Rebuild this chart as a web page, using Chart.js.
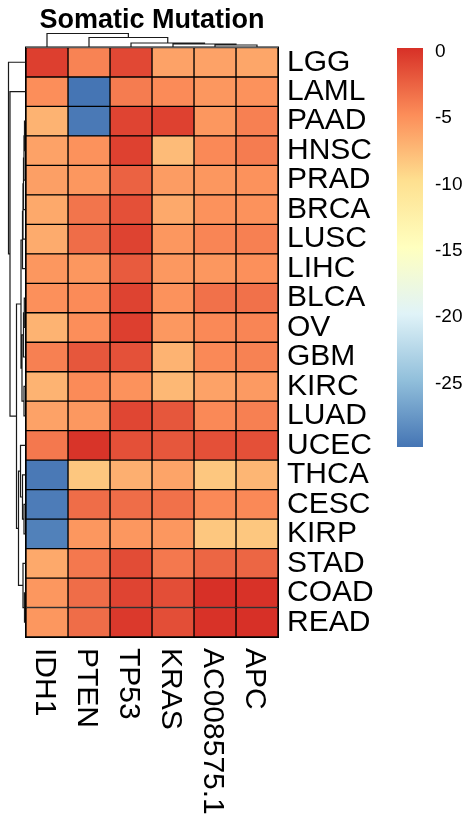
<!DOCTYPE html>
<html><head><meta charset="utf-8">
<script src="https://cdn.jsdelivr.net/npm/chart.js@4.4.1/dist/chart.umd.min.js"></script>
<style>html,body{margin:0;padding:0;background:#fff;}canvas{display:block;}</style>
</head><body>
<canvas id="c" width="465" height="825"></canvas>
<script>
// ---------------- data ----------------
const rowLabels = ['LGG','LAML','PAAD','HNSC','PRAD','BRCA','LUSC','LIHC','BLCA','OV','GBM','KIRC','LUAD','UCEC','THCA','CESC','KIRP','STAD','COAD','READ'];
const colLabels = ['IDH1','PTEN','TP53','KRAS','AC008575.1','APC'];
const valIDH1 = [-0.5,-4.8,-7.0,-6.0,-5.8,-6.4,-6.5,-5.3,-4.9,-7.0,-4.0,-7.0,-6.0,-3.6,-29.5,-29.3,-29.0,-6.4,-5.3,-5.3];
const valPTEN = [-4.2,-29.8,-29.5,-5.0,-5.3,-3.4,-3.0,-5.3,-4.6,-4.8,-1.8,-4.6,-5.4,0.1,-8.2,-3.0,-5.3,-3.6,-3.0,-3.0];
const valTP53 = [-1.0,-3.8,-0.8,-0.6,-2.4,-1.4,-0.7,-2.0,-0.7,-0.5,-1.5,-5.0,-0.9,-1.4,-6.8,-3.0,-5.3,-1.2,-0.8,-0.2];
const valKRAS = [-6.0,-4.6,-0.6,-7.5,-5.6,-6.4,-5.3,-5.4,-5.0,-5.4,-7.0,-7.3,-1.8,-1.8,-6.1,-3.2,-5.3,-3.6,-1.3,-1.3];
const valAC = [-6.0,-5.3,-5.3,-4.5,-5.3,-5.0,-4.3,-5.3,-3.2,-4.5,-4.5,-6.0,-4.5,-1.4,-8.2,-4.5,-8.2,-2.6,0.3,0.2];
const valAPC = [-6.2,-5.0,-4.0,-3.8,-5.0,-5.0,-4.0,-4.9,-3.2,-4.3,-4.1,-5.5,-4.0,-1.4,-7.2,-4.5,-8.2,-2.6,0.2,0.3];
const legendTicks = [0,-5,-10,-15,-20,-25];
// hclust-style merges (negative = leaf index, positive = earlier merge)
const rowMerges = [[-3,-4],[1,-5],[2,-6],[3,-7],[4,-8],[-9,-10],[6,-11],[-12,-13],[7,8],[5,9],[-16,-17],[-15,11],[-14,12],[-19,-20],[-18,14],[13,15],[10,16],[-2,17],[-1,18]];
const rowMergeHeights = [1.0,1.5,2.0,2.5,3.0,1.2,2.0,1.5,3.5,4.5,1.5,3.0,5.0,1.0,2.5,7.0,9.0,15.5,17.0];
const colMerges = [[-5,-6],[-4,1],[-3,2],[-2,3],[-1,4]];
const colMergeHeights = [2.0,3.0,4.0,9.5,13.5];

// ---------------- colour scale ----------------
const palette = ['#4575B4','#91BFDB','#E0F3F8','#FFFFBF','#FEE090','#FC8D59','#D73027'];
const columns = [valIDH1,valPTEN,valTP53,valKRAS,valAC,valAPC];
const allVals = columns.flat();
const vMin = Math.min(...allVals), vMax = Math.max(...allVals);
function hexRgb(h){return [parseInt(h.slice(1,3),16),parseInt(h.slice(3,5),16),parseInt(h.slice(5,7),16)];}
const palRgb = palette.map(hexRgb);
function colorFor(v){
  let t = (v - vMin)/(vMax - vMin); t = Math.max(0,Math.min(1,t));
  const s = t*(palRgb.length-1); const i = Math.min(Math.floor(s), palRgb.length-2); const f = s-i;
  const a = palRgb[i], b = palRgb[i+1];
  return 'rgb('+a.map((x,k)=>Math.round(x+(b[k]-x)*f)).join(',')+')';
}

const FONT = '"Liberation Sans", Arial, sans-serif';

// ---------------- plugin: dendrograms, title, column labels, colour key ----------------
function drawDendro(ctx, merges, heights, leafPos, base, size, vertical){
  const maxH = Math.max(...heights);
  const pos = [], hh = [];
  const get = (id)=> id<0 ? [leafPos(-id-1), 0] : [pos[id-1], hh[id-1]];
  ctx.beginPath();
  merges.forEach((m,i)=>{
    const [pa,ha] = get(m[0]); const [pb,hb] = get(m[1]);
    const h = heights[i]/maxH*size;
    pos[i] = (pa+pb)/2; hh[i] = h;
    if(vertical){
      ctx.moveTo(pa, base-ha); ctx.lineTo(pa, base-h); ctx.lineTo(pb, base-h); ctx.lineTo(pb, base-hb);
    } else {
      ctx.moveTo(base-ha, pa); ctx.lineTo(base-h, pa); ctx.lineTo(base-h, pb); ctx.lineTo(base-hb, pb);
    }
  });
  ctx.stroke();
}

const extras = {
  id:'extras',
  afterDraw(chart){
    const {ctx, chartArea:ca, scales:{x,y}} = chart;
    ctx.save();
    ctx.strokeStyle='#000'; ctx.lineWidth=1;
    ctx.strokeRect(ca.left-0.5, ca.top-0.5, ca.right-ca.left+1, ca.bottom-ca.top+1);
    ctx.strokeStyle='#1a1a1a'; ctx.lineWidth=1.2;
    drawDendro(ctx, rowMerges, rowMergeHeights, i=>y.getPixelForValue(i), ca.left-0.5, 17, false);
    drawDendro(ctx, colMerges, colMergeHeights, i=>x.getPixelForValue(i+0.5), ca.top-0.5, 13.5, true);
    ctx.fillStyle='#000'; ctx.font='bold 27px '+FONT; ctx.textAlign='center'; ctx.textBaseline='alphabetic';
    ctx.fillText('Somatic Mutation', (ca.left+ca.right)/2, 28);
    ctx.font='30px '+FONT; ctx.textAlign='left'; ctx.textBaseline='middle';
    colLabels.forEach((lab,c)=>{
      const px = x.getPixelForValue(c+0.5) - 2.5;
      ctx.save(); ctx.translate(px, ca.bottom+11); ctx.rotate(Math.PI/2); ctx.fillText(lab,0,0); ctx.restore();
    });
    const kx=397, kw=26, kTop=48, kBot=447;
    const g = ctx.createLinearGradient(0,kTop,0,kBot);
    palette.slice().reverse().forEach((c,i)=>g.addColorStop(i/(palette.length-1), c));
    ctx.fillStyle=g; ctx.fillRect(kx,kTop,kw,kBot-kTop);
    const vy = v => kTop + (vMax - v)/(vMax - vMin)*(kBot-kTop);
    ctx.fillStyle='#000'; ctx.font='19px '+FONT; ctx.textAlign='left'; ctx.textBaseline='middle';
    legendTicks.forEach(t=>ctx.fillText(String(t), 435, vy(t)));
    ctx.restore();
  }
};

new Chart(document.getElementById('c'), {
  type:'bar',
  data:{
    labels: rowLabels,
    datasets: columns.map((vals,c)=>({
      label: colLabels[c],
      data: vals.map(()=>[c, c+1]),
      backgroundColor: vals.map(colorFor),
      borderColor:'#000', borderWidth:1, borderSkipped:false,
      barPercentage:1, categoryPercentage:1, grouped:false
    }))
  },
  options:{
    indexAxis:'y', responsive:false, animation:false, events:[],
    layout:{padding:{left:26, top:47.5, bottom:188, right:0}},
    plugins:{legend:{display:false}, tooltip:{enabled:false}, title:{display:false}},
    scales:{
      x:{type:'linear', min:0, max:6, display:false},
      y:{position:'right', grid:{display:false, drawTicks:false}, border:{display:false},
         ticks:{color:'#000', font:{family:FONT, size:30}, padding:9, autoSkip:false},
         afterFit(s){ s.width = 187; }}
    }
  },
  plugins:[extras]
});
</script>
</body></html>
